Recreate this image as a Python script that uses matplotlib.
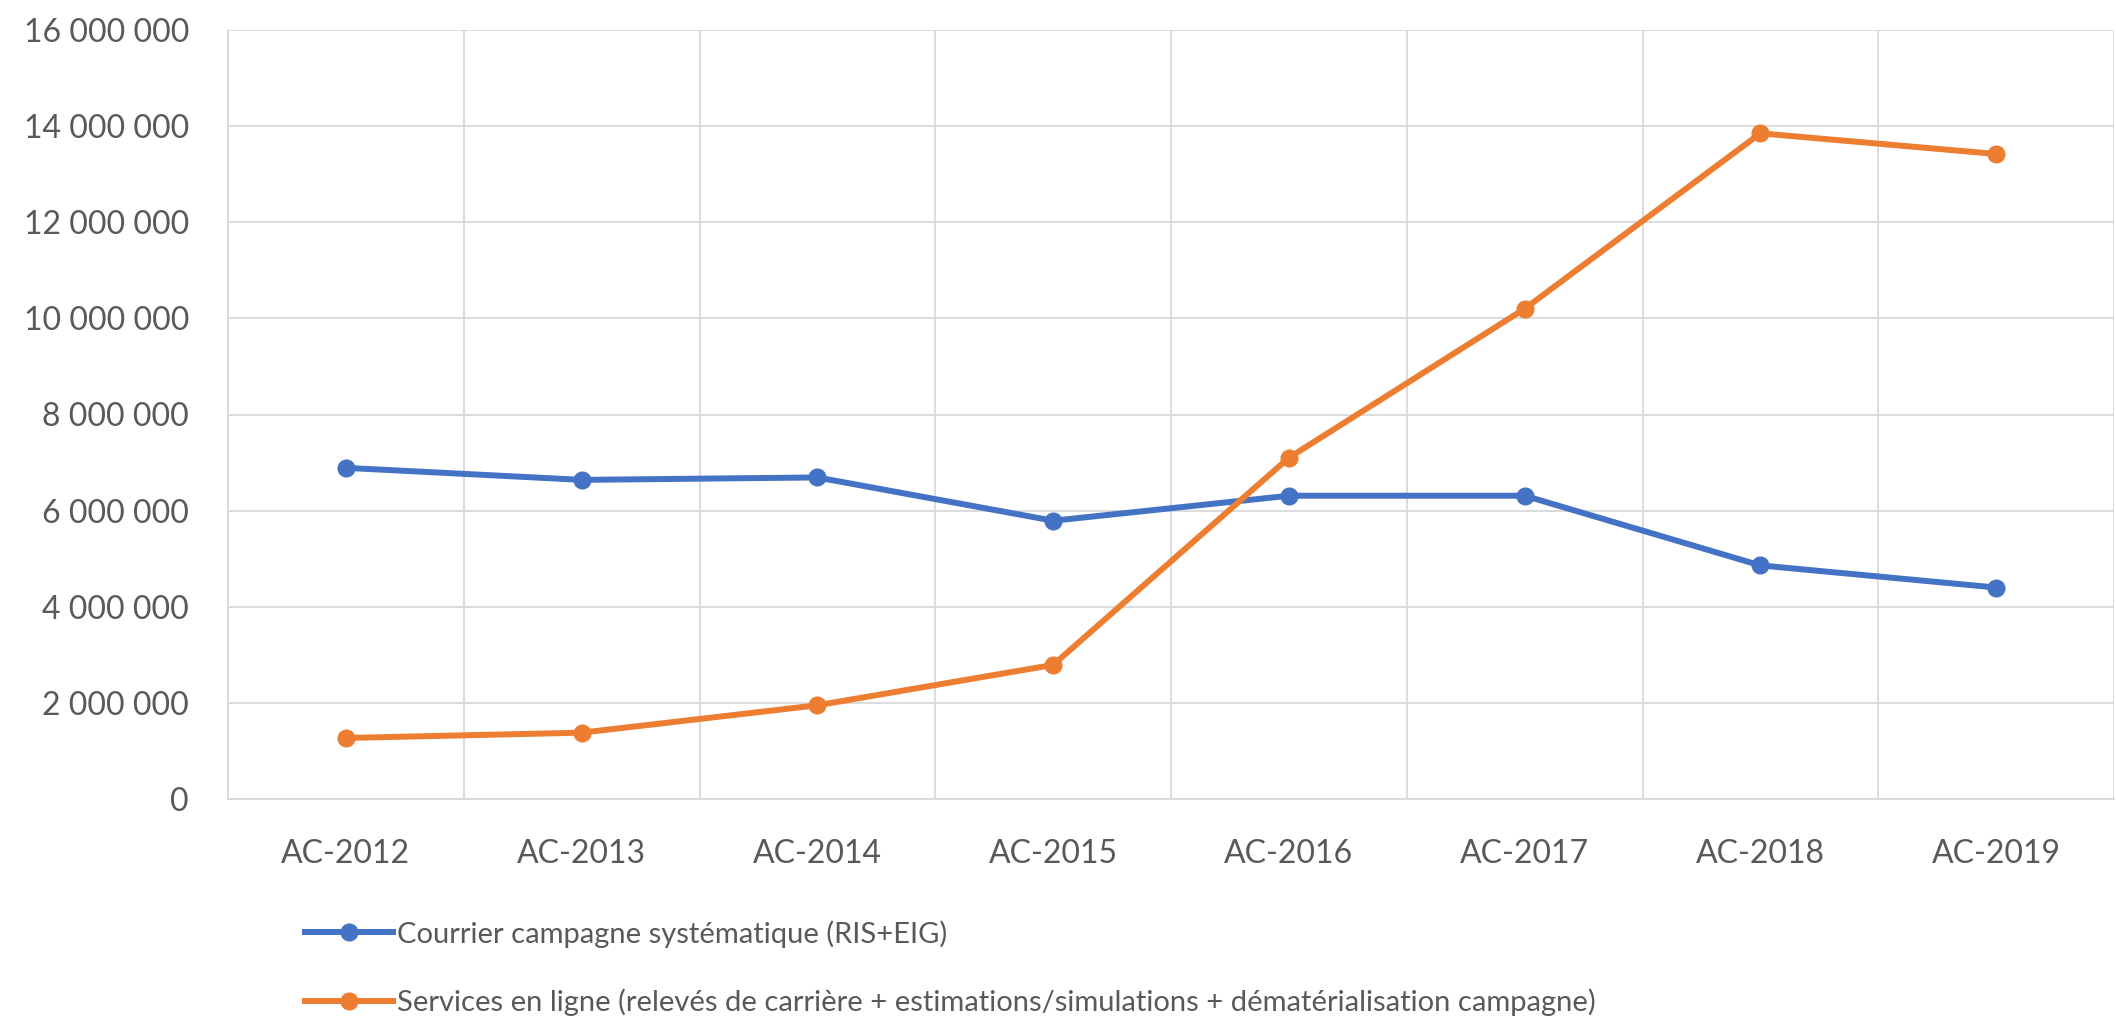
import matplotlib
matplotlib.use("Agg")
import matplotlib.pyplot as plt
from matplotlib.ticker import FuncFormatter, MultipleLocator

categories = ["AC-2012", "AC-2013", "AC-2014", "AC-2015", "AC-2016", "AC-2017", "AC-2018", "AC-2019"]
courrier = [6890000, 6640000, 6690000, 5790000, 6310000, 6310000, 4860000, 4400000]
services = [1270000, 1380000, 1950000, 2790000, 7100000, 10200000, 13850000, 13420000]
label_courrier = "Courrier campagne systématique (RIS+EIG)"
label_services = "Services en ligne (relevés de carrière + estimations/simulations + dématérialisation campagne)"

plt.rcParams['font.family'] = ['Lato', 'DejaVu Sans']
W, H = 2116, 1023
fig = plt.figure(figsize=(W / 100, H / 100), dpi=100)
ax = fig.add_axes([228 / W, 1 - 799 / H, (2114 - 228) / W, (799 - 30) / H])

x = list(range(len(categories)))
blue = "#4472C4"
orange = "#ED7D31"
ax.plot(x, courrier, color=blue, lw=4.3, marker='o', ms=12, label=label_courrier, zorder=3)
ax.plot(x, services, color=orange, lw=4.3, marker='o', ms=12, label=label_services, zorder=3)

ax.set_xlim(-0.5, len(categories) - 0.5)
ax.set_ylim(0, 16000000)
ax.yaxis.set_major_locator(MultipleLocator(2000000))
ax.yaxis.set_major_formatter(FuncFormatter(lambda v, p: f"{v:,.0f}".replace(",", " ")))
ax.set_xticks(x)
ax.set_xticklabels(categories)
ax.set_xticks([i - 0.5 for i in range(len(categories) + 1)], minor=True)

grid_c = "#D9D9D9"
ax.grid(True, axis='y', which='major', color=grid_c, lw=1.3)
ax.grid(True, axis='x', which='minor', color=grid_c, lw=1.3)
ax.grid(False, axis='x', which='major')
for s in ['top', 'right']:
    ax.spines[s].set_visible(False)
ax.spines['left'].set_color(grid_c)
ax.spines['left'].set_linewidth(1.3)
ax.spines['bottom'].set_color(grid_c)
ax.spines['bottom'].set_linewidth(1.3)
ax.set_axisbelow(True)
ax.tick_params(axis='both', which='both', length=0, labelsize=23, labelcolor="#595959")
ax.tick_params(axis='y', pad=28)
ax.tick_params(axis='x', pad=29)

leg = ax.legend(loc='upper left', bbox_to_anchor=(305 / W, 1 - 920 / H), bbox_transform=fig.transFigure,
                frameon=False, fontsize=21, handlelength=3.0, handletextpad=0.15, labelspacing=1.4,
                borderaxespad=0, borderpad=0)
for t in leg.get_texts():
    t.set_color("#595959")

fig.savefig("out.png", dpi=100, facecolor="white")
